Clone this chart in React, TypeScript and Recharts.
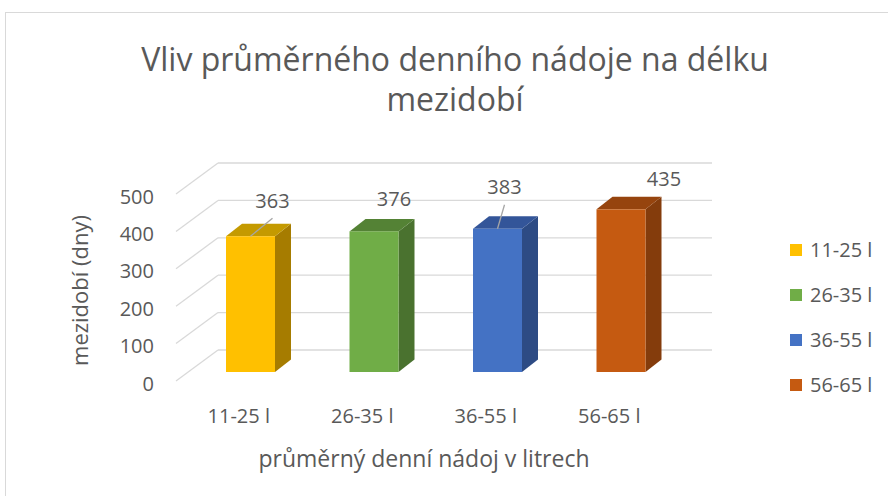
import React from "react";
import { BarChart, Bar, XAxis, YAxis, CartesianGrid, Legend, LabelList } from "recharts";

// chart data
const categories = ["11-25 l", "26-35 l", "36-55 l", "56-65 l"];
const values = [363, 376, 383, 435];
const yTicks = [0, 100, 200, 300, 400, 500];

// face colours per bar (front / side / top)
const frontColors = ["#FFC000", "#70AD47", "#4472C4", "#C55A11"];
const sideColors = ["#A67C00", "#4A722F", "#2D4B84", "#843C0C"];
const topColors = ["#C49A00", "#548235", "#335599", "#96440E"];

// label placement (dragged labels in the original), relative to bar front top centre
const labelShift = [[22, -36], [20, -33], [7, -42], [43, -31]];
const labelLeader = [true, false, true, false];

const data = categories.map((name, i) => ({ name, value: values[i] }));

// fake 3D projection
const FLOOR_DX = -42;
const FLOOR_DY = 31;
const BAR_DX = -29;
const BAR_DY = 22;
const DEPTH_DX = 16;
const DEPTH_DY = -12.5;

const FONT = "'Open Sans', 'Noto Sans', sans-serif";
const TEXT = "#595959";
const GRID = "#D9D9D9";

const GridLine = (props: any) => {
    const { x1, x2, y1, index } = props;
    return (
        <g key={`grid-${index}-${y1}`}>
            <line x1={x1} y1={y1} x2={x2} y2={y1} stroke={GRID} strokeWidth={1.3} />
            <line x1={x1} y1={y1} x2={x1 + FLOOR_DX} y2={y1 + FLOOR_DY} stroke={GRID} strokeWidth={1.3} />
        </g>
    );
};

const Bar3D = (props: any) => {
    const { x, y, width, height, index } = props;
    const left = x + BAR_DX;
    const right = left + width;
    const top = y + BAR_DY;
    const bottom = y + height + BAR_DY;
    return (
        <g>
            <polygon
                points={`${right},${top} ${right + DEPTH_DX},${top + DEPTH_DY} ${right + DEPTH_DX},${bottom + DEPTH_DY} ${right},${bottom}`}
                fill={sideColors[index]}
            />
            <polygon
                points={`${left},${top} ${left + DEPTH_DX},${top + DEPTH_DY} ${right + DEPTH_DX},${top + DEPTH_DY} ${right},${top}`}
                fill={topColors[index]}
            />
            <rect x={left} y={top} width={width} height={bottom - top} fill={frontColors[index]} />
        </g>
    );
};

const ValueLabel = (props: any) => {
    const { x, y, width, value, index } = props;
    const ax = x + BAR_DX + width / 2;
    const ay = y + BAR_DY;
    const [dx, dy] = labelShift[index];
    const cx = ax + dx;
    const cy = ay + dy;
    return (
        <g>
            {labelLeader[index] && (
                <line x1={ax} y1={ay} x2={cx} y2={cy + 18} stroke="#A6A6A6" strokeWidth={1.3} />
            )}
            <text x={cx} y={cy} textAnchor="middle" dominantBaseline="central" fontSize={20} fill={TEXT} fontFamily={FONT}>
                {value}
            </text>
        </g>
    );
};

const XTick = (props: any) => {
    const { x, y, payload } = props;
    return (
        <text x={x - 41} y={y + 65} textAnchor="middle" dominantBaseline="central" fontSize={20} fill={TEXT} fontFamily={FONT}>
            {payload.value}
        </text>
    );
};

const YTick = (props: any) => {
    const { x, y, payload } = props;
    return (
        <text x={x - 64} y={y + 33} textAnchor="end" dominantBaseline="central" fontSize={20} fill={TEXT} fontFamily={FONT}>
            {payload.value}
        </text>
    );
};

const LegendBox = () => (
    <div style={{ fontFamily: FONT, fontSize: 20, color: TEXT }}>
        {categories.map((c, i) => (
            <div key={c} style={{ display: "flex", alignItems: "center", height: 45 }}>
                <span style={{ width: 12, height: 12, background: frontColors[i], marginRight: 8, display: "inline-block" }} />
                <span>{c}</span>
            </div>
        ))}
    </div>
);

export default function App() {
    return (
        <div style={{ position: "absolute", left: 0, top: 0, width: 888, height: 496, background: "#fff", overflow: "hidden" }}>
            <div style={{ position: "absolute", left: 5, top: 12, width: 900, height: 500, border: "1px solid #D9D9D9" }} />
            <div
                style={{
                    position: "absolute",
                    left: 40,
                    top: 39,
                    width: 830,
                    textAlign: "center",
                    fontFamily: FONT,
                    fontSize: 32,
                    lineHeight: "40px",
                    color: TEXT,
                }}
            >
                Vliv průměrného denního nádoje na délku
                <br />
                mezidobí
            </div>
            <BarChart
                width={888}
                height={496}
                data={data}
                margin={{ top: 163, right: 176, bottom: 116, left: 158 }}
                style={{ position: "absolute", left: 0, top: 0 }}
            >
                <CartesianGrid vertical={false} horizontal={GridLine} />
                <XAxis
                    dataKey="name"
                    height={30}
                    axisLine={false}
                    tickLine={false}
                    tickSize={0}
                    tickMargin={0}
                    tick={XTick}
                    label={{
                        content: (p: any) => (
                            <text
                                x={p.viewBox.x + p.viewBox.width / 2 - 41}
                                y={458}
                                textAnchor="middle"
                                dominantBaseline="central"
                                fontSize={23}
                                fill={TEXT}
                                fontFamily={FONT}
                            >
                                průměrný denní nádoj v litrech
                            </text>
                        ),
                    }}
                />
                <YAxis
                    width={60}
                    domain={[0, 500]}
                    ticks={yTicks}
                    axisLine={false}
                    tickLine={false}
                    tickSize={0}
                    tickMargin={0}
                    tick={YTick}
                    label={{
                        content: (p: any) => {
                            const cx = p.viewBox.x - 79;
                            const cy = p.viewBox.y + p.viewBox.height / 2 + 34;
                            return (
                                <text
                                    x={cx}
                                    y={cy}
                                    transform={`rotate(-90 ${cx} ${cy})`}
                                    textAnchor="middle"
                                    dominantBaseline="central"
                                    fontSize={22}
                                    fill={TEXT}
                                    fontFamily={FONT}
                                >
                                    mezidobí (dny)
                                </text>
                            );
                        },
                    }}
                />
                <Legend
                    layout="vertical"
                    align="center"
                    verticalAlign="middle"
                    content={LegendBox}
                    wrapperStyle={{ position: "absolute", left: 790, top: 227, width: 98 }}
                />
                <Bar dataKey="value" barSize={49} shape={Bar3D} isAnimationActive={false}>
                    <LabelList dataKey="value" content={ValueLabel} />
                </Bar>
            </BarChart>
        </div>
    );
}
